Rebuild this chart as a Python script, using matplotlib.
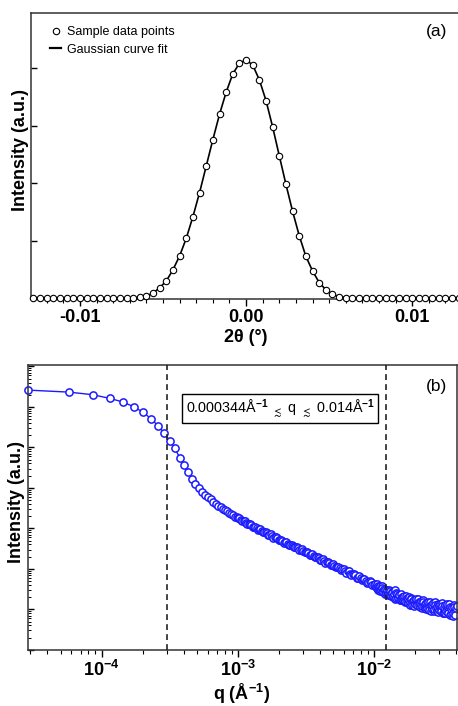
import numpy as np
import matplotlib
matplotlib.use('Agg')
import matplotlib.pyplot as plt
from matplotlib.lines import Line2D
from matplotlib.ticker import FixedLocator, MultipleLocator, LogLocator, NullFormatter, FuncFormatter

plt.rcParams['font.family'] = ['Liberation Sans', 'DejaVu Sans']
plt.rcParams['font.weight'] = 'bold'
plt.rcParams['mathtext.fontset'] = 'custom'
plt.rcParams['mathtext.rm'] = 'Liberation Sans'
plt.rcParams['mathtext.bf'] = 'Liberation Sans:bold'
plt.rcParams['mathtext.fallback'] = 'stixsans'

# ---- panel (a): rocking scan, 2theta (deg) vs counts ----
two_theta = [-0.0128, -0.0124, -0.0120, -0.0116, -0.0112, -0.0108, -0.0104, -0.0100,
             -0.0096, -0.0092, -0.0088, -0.0084, -0.0080, -0.0076, -0.0072, -0.0068,
             -0.0064, -0.0060, -0.0056, -0.0052, -0.0048, -0.0044, -0.0040, -0.0036,
             -0.0032, -0.0028, -0.0024, -0.0020, -0.0016, -0.0012, -0.0008, -0.0004,
             0.0000, 0.0004, 0.0008, 0.0012, 0.0016, 0.0020, 0.0024, 0.0028,
             0.0032, 0.0036, 0.0040, 0.0044, 0.0048, 0.0052, 0.0056, 0.0060,
             0.0064, 0.0068, 0.0072, 0.0076, 0.0080, 0.0084, 0.0088, 0.0092,
             0.0096, 0.0100, 0.0104, 0.0108, 0.0112, 0.0116, 0.0120, 0.0124, 0.0128]
counts = [0, 0, 0, 0, 0, 0, 0, 0, 0, 0, 0, 0, 0, 0, 0, 0,
          12, 33, 87, 178, 299, 494, 735, 1042, 1419, 1838, 2299, 2760, 3200, 3586, 3905, 4092,
          4150, 4059, 3801, 3440, 2980, 2478, 1980, 1511, 1087, 726, 473, 270, 145, 62, 25, 8,
          0, 0, 0, 0, 0, 0, 0, 0, 0, 0, 0, 0, 0, 0, 0, 0, 0]

# ---- panel (b): SAXS curve, q (1/A) vs intensity ----
q_low = [2.87e-5, 5.74e-5, 8.61e-5, 1.148e-4, 1.435e-4, 1.722e-4, 2.009e-4, 2.296e-4,
         2.583e-4, 2.87e-4, 3.157e-4, 3.444e-4, 3.731e-4, 4.018e-4, 4.305e-4, 4.592e-4,
         4.879e-4, 5.166e-4, 5.453e-4, 5.74e-4, 6.027e-4, 6.314e-4, 6.601e-4, 6.888e-4,
         7.175e-4, 7.462e-4, 7.749e-4, 8.036e-4, 8.323e-4, 8.61e-4, 8.897e-4, 9.184e-4,
         9.471e-4, 9.758e-4]
I_low = [2.60e5, 2.32e5, 2.00e5, 1.62e5, 1.32e5, 1.00e5, 7.41e4, 5.13e4,
         3.47e4, 2.29e4, 1.45e4, 9.44e3, 5.62e3, 3.63e3, 2.40e3, 1.68e3,
         1.26e3, 1.00e3, 813, 676, 603, 521, 460, 409,
         363, 330, 305, 282, 261, 242, 225, 209, 196, 186]

q_mid = [1.00e-3, 1.025e-3, 1.05e-3, 1.075e-3, 1.10e-3, 1.125e-3, 1.15e-3, 1.175e-3,
         1.20e-3, 1.225e-3, 1.25e-3, 1.28e-3, 1.31e-3, 1.34e-3, 1.37e-3, 1.40e-3,
         1.43e-3, 1.46e-3, 1.49e-3, 1.525e-3, 1.56e-3, 1.595e-3, 1.63e-3, 1.665e-3,
         1.70e-3, 1.74e-3, 1.78e-3, 1.82e-3, 1.86e-3, 1.90e-3, 1.94e-3, 1.985e-3,
         2.03e-3, 2.075e-3, 2.12e-3, 2.17e-3, 2.22e-3, 2.27e-3, 2.32e-3, 2.37e-3,
         2.42e-3, 2.475e-3, 2.53e-3, 2.585e-3, 2.64e-3, 2.70e-3, 2.76e-3, 2.825e-3,
         2.89e-3, 2.955e-3, 3.02e-3, 3.085e-3, 3.15e-3, 3.22e-3, 3.29e-3, 3.365e-3,
         3.44e-3, 3.52e-3, 3.60e-3, 3.68e-3, 3.76e-3, 3.845e-3, 3.93e-3, 4.015e-3,
         4.10e-3, 4.195e-3, 4.29e-3, 4.385e-3, 4.48e-3, 4.58e-3, 4.68e-3, 4.785e-3,
         4.89e-3, 5.00e-3, 5.11e-3, 5.225e-3, 5.34e-3, 5.46e-3, 5.58e-3, 5.705e-3,
         5.83e-3, 5.96e-3, 6.09e-3, 6.23e-3, 6.37e-3, 6.51e-3, 6.65e-3, 6.80e-3,
         6.95e-3, 7.11e-3, 7.27e-3, 7.43e-3, 7.59e-3, 7.765e-3, 7.94e-3, 8.115e-3,
         8.29e-3, 8.48e-3, 8.67e-3, 8.865e-3, 9.06e-3, 9.26e-3, 9.46e-3, 9.675e-3, 9.89e-3]
I_mid = [178, 179, 163, 148, 149, 151, 138, 126,
         127, 129, 119, 109, 110, 111, 101, 92.5,
         94.0, 95.2, 87.5, 79.8, 80.7, 81.7, 75.0, 68.8,
         70.0, 70.8, 64.9, 59.4, 60.2, 61.1, 56.2, 51.5,
         52.2, 53.0, 48.8, 44.7, 45.3, 45.9, 42.2, 38.7,
         39.4, 39.9, 36.7, 33.7, 34.3, 34.7, 31.9, 29.2,
         29.7, 30.1, 27.7, 25.4, 25.9, 26.2, 24.1, 22.1,
         22.5, 22.8, 20.9, 19.2, 19.5, 19.8, 18.2, 16.7,
         17.0, 17.4, 15.8, 14.3, 14.7, 15.0, 13.7, 12.4,
         12.8, 13.1, 11.9, 10.8, 11.1, 11.4, 10.4, 9.4,
         9.66, 9.98, 9.01, 8.09, 8.6, 8.67, 7.6, 7.02,
         7.29, 7.60, 7.0, 6.04, 6.1, 6.60, 5.89, 5.23,
         5.7, 5.73, 4.95, 4.54, 4.77, 5.02, 4.6, 3.91, 4.0]

q_high = [0.0102, 0.0103, 0.0104, 0.0105, 0.0106, 0.0107, 0.0108, 0.0109, 0.0110, 0.0111,
          0.0112, 0.01135, 0.0115, 0.0116, 0.0117, 0.01185, 0.0120, 0.0121, 0.0122, 0.01235,
          0.0125, 0.0126, 0.0127, 0.01285, 0.0130, 0.01315, 0.0133, 0.0134, 0.0135, 0.01365,
          0.0138, 0.01395, 0.0141, 0.01425, 0.0144, 0.01455, 0.0147, 0.01485, 0.0150, 0.01515,
          0.0153, 0.01545, 0.0156, 0.01575, 0.0159, 0.01605, 0.0162, 0.0164, 0.0166, 0.01675,
          0.0169, 0.0171, 0.0173, 0.01745, 0.0176, 0.0178, 0.0180, 0.0182, 0.0184, 0.01855,
          0.0187, 0.0189, 0.0191, 0.0193, 0.0195, 0.0197, 0.0199, 0.0201, 0.0203, 0.0205,
          0.0207, 0.02095, 0.0212, 0.0214, 0.0216, 0.0218, 0.0220, 0.02225, 0.0225, 0.0227,
          0.0229, 0.02315, 0.0234, 0.02365, 0.0239, 0.02415, 0.0244, 0.02465, 0.0249, 0.02515,
          0.0254, 0.02565, 0.0259, 0.02615, 0.0264, 0.0267, 0.0270, 0.02725, 0.0275, 0.0278,
          0.0281, 0.0284, 0.0287, 0.02895, 0.0292, 0.0295, 0.0298, 0.0301, 0.0304, 0.03075,
          0.0311, 0.0314, 0.0317, 0.0320, 0.0323, 0.03265, 0.0330, 0.03335, 0.0337, 0.03405,
          0.0344, 0.03475, 0.0351, 0.03545, 0.0358, 0.03615, 0.0365, 0.03685, 0.0372, 0.0376,
          0.0380, 0.0384, 0.0388, 0.03915, 0.0395, 0.0399, 0.0403]
I_high = [4.21, 3.60, 3.37, 4.17, 3.74, 3.05, 3.08, 3.55, 3.74, 2.79,
          3.08, 3.70, 3.37, 2.88, 2.65, 3.26, 3.04, 2.38, 2.51, 2.82,
          3.03, 2.28, 2.42, 3.06, 2.82, 2.31, 2.12, 2.70, 2.50, 2.00,
          2.11, 2.45, 2.97, 1.85, 1.95, 2.54, 2.39, 2.01, 1.94, 2.25,
          2.32, 1.66, 1.72, 2.34, 2.06, 1.82, 1.67, 1.98, 2.14, 1.50,
          1.62, 2.15, 1.89, 1.59, 1.44, 1.82, 1.97, 1.31, 1.49, 1.90,
          1.76, 1.49, 1.31, 1.64, 1.74, 1.22, 1.32, 1.69, 1.80, 1.35,
          1.25, 1.79, 1.54, 1.27, 1.15, 1.47, 1.64, 1.09, 1.22, 1.66,
          1.51, 1.21, 1.07, 1.37, 1.42, 0.995, 1.08, 1.45, 1.51, 1.14,
          0.98, 1.55, 1.31, 0.92, 1.00, 1.26, 1.47, 0.92, 1.03, 1.51,
          1.31, 1.05, 0.91, 1.22, 1.33, 0.855, 0.95, 1.28, 1.39, 1.03,
          0.89, 1.40, 1.18, 0.794, 0.83, 1.11, 1.26, 0.81, 0.885, 1.21,
          1.35, 0.93, 0.805, 1.39, 1.15, 0.72, 0.75, 1.00, 1.17, 0.687,
          0.80, 1.26, 1.17, 0.843, 0.73, 1.05, 1.20]

q_range = [3.0e-4, 1.22e-2]   # dashed guide lines

q_all = q_low + q_mid + q_high
I_all = I_low + I_mid + I_high

fig = plt.figure(figsize=(4.58, 7.06), dpi=100)

# ---------------- (a) ----------------
ax1 = fig.add_axes([0.0677, 0.5765, 0.941, 0.405])
ax1.plot(two_theta, counts, '-', color='black', lw=1.2, zorder=2)
ax1.plot(two_theta, counts, 'o', ms=4.6, mfc='white', mec='black', mew=0.8, zorder=3,
         clip_on=False)
ax1.set_xlim(-0.01295, 0.0130)
ax1.set_ylim(-17, 4965)
ax1.xaxis.set_major_locator(FixedLocator([-0.01, 0.0, 0.01]))
ax1.xaxis.set_major_formatter(FuncFormatter(lambda v, p: '%.2f' % v))
ax1.xaxis.set_minor_locator(MultipleLocator(0.001))
ax1.yaxis.set_major_locator(FixedLocator([0, 1000, 2000, 3000, 4000]))
ax1.yaxis.set_major_formatter(NullFormatter())
ax1.tick_params(axis='x', which='major', direction='out', length=5, width=1, labelsize=13, pad=2)
ax1.tick_params(axis='x', which='minor', direction='out', length=3, width=0.8)
ax1.tick_params(axis='y', which='major', direction='in', length=4.5, width=1)
ax1.tick_params(top=False, right=False)
for s in ax1.spines.values():
    s.set_linewidth(1.1)
    s.set_color('#333333')

ax1.set_xlabel('2θ (°)', fontsize=13, fontweight='bold')
ax1.xaxis.set_label_coords(0.499, -0.136)
ax1.xaxis.label.set_va('center')
ax1.set_ylabel('Intensity (a.u.)', fontsize=13, fontweight='bold')
ax1.yaxis.set_label_coords(-0.0255, 0.521)
ax1.yaxis.label.set_va('center')

handles = [Line2D([], [], ls='none', marker='o', ms=4.6, mfc='white', mec='black', mew=0.8),
           Line2D([], [], ls='-', color='black', lw=1.6)]
leg = ax1.legend(handles, ['Sample data points', 'Gaussian curve fit'], loc='upper left',
                 bbox_to_anchor=(0.044, 0.955), frameon=False, borderpad=0, borderaxespad=0,
                 handlelength=0.9, handletextpad=0.5, labelspacing=0.45,
                 prop={'size': 9, 'weight': 'normal'})
ax1.text(0.94, 0.934, '(a)', transform=ax1.transAxes, ha='center', va='center',
         fontsize=12.5, fontweight='normal')

# ---------------- (b) ----------------
ax2 = fig.add_axes([0.0611, 0.0793, 0.936, 0.4037])
ax2.plot(q_all, I_all, '-o', color='#1a1aff', lw=1.0, ms=5.2, mfc='white', mec='#1a1aff',
         mew=1.1, zorder=2, clip_on=False)
ax2.set_xscale('log')
ax2.set_yscale('log')
ax2.set_xlim(2.877e-5, 0.0403)
ax2.set_ylim(10 ** -1.005, 10 ** 6.035)
for q in q_range:
    ax2.axvline(q, color='#222222', ls=(0, (3.5, 2.5)), lw=1.2, zorder=3)

ax2.xaxis.set_major_locator(FixedLocator([1e-4, 1e-3, 1e-2]))
ax2.xaxis.set_major_formatter(FuncFormatter(
    lambda v, p: r'$\mathbf{10^{%d}}$' % int(round(np.log10(v)))))
ax2.xaxis.set_minor_locator(LogLocator(base=10, subs=np.arange(2, 10), numticks=20))
ax2.xaxis.set_minor_formatter(NullFormatter())
ax2.yaxis.set_major_locator(LogLocator(base=10, numticks=20))
ax2.yaxis.set_minor_locator(LogLocator(base=10, subs=np.arange(2, 10), numticks=20))
ax2.yaxis.set_major_formatter(NullFormatter())
ax2.yaxis.set_minor_formatter(NullFormatter())
ax2.tick_params(axis='x', which='major', direction='out', length=5, width=1, labelsize=13, pad=2)
ax2.tick_params(axis='x', which='minor', direction='out', length=3, width=0.8)
ax2.tick_params(axis='y', which='major', direction='in', length=4, width=1)
ax2.tick_params(axis='y', which='minor', direction='in', length=2.2, width=0.7)
for s in ax2.spines.values():
    s.set_linewidth(1.1)
    s.set_color('#333333')

ax2.set_xlabel(r'q (Å$^{\mathbf{-1}}$)', fontsize=13, fontweight='bold')
ax2.xaxis.set_label_coords(0.499, -0.1754)
ax2.xaxis.label.set_va('baseline')
ax2.set_ylabel('Intensity (a.u.)', fontsize=13, fontweight='bold')
ax2.yaxis.set_label_coords(-0.0257, 0.518)
ax2.yaxis.label.set_va('center')

ax2.text(0.588, 0.848,
         r'0.000344Å$^{\mathrm{-1}}$ $_{\lesssim}$ q $_{\lesssim}$ 0.014Å$^{\mathrm{-1}}$',
         transform=ax2.transAxes, ha='center', va='center', fontsize=10.4, fontweight='normal',
         bbox=dict(boxstyle='square,pad=0.22', fc='white', ec='black', lw=1))
ax2.text(0.953, 0.924, '(b)', transform=ax2.transAxes, ha='center', va='center',
         fontsize=12.5, fontweight='normal')

fig.savefig('out.png', dpi=100)
